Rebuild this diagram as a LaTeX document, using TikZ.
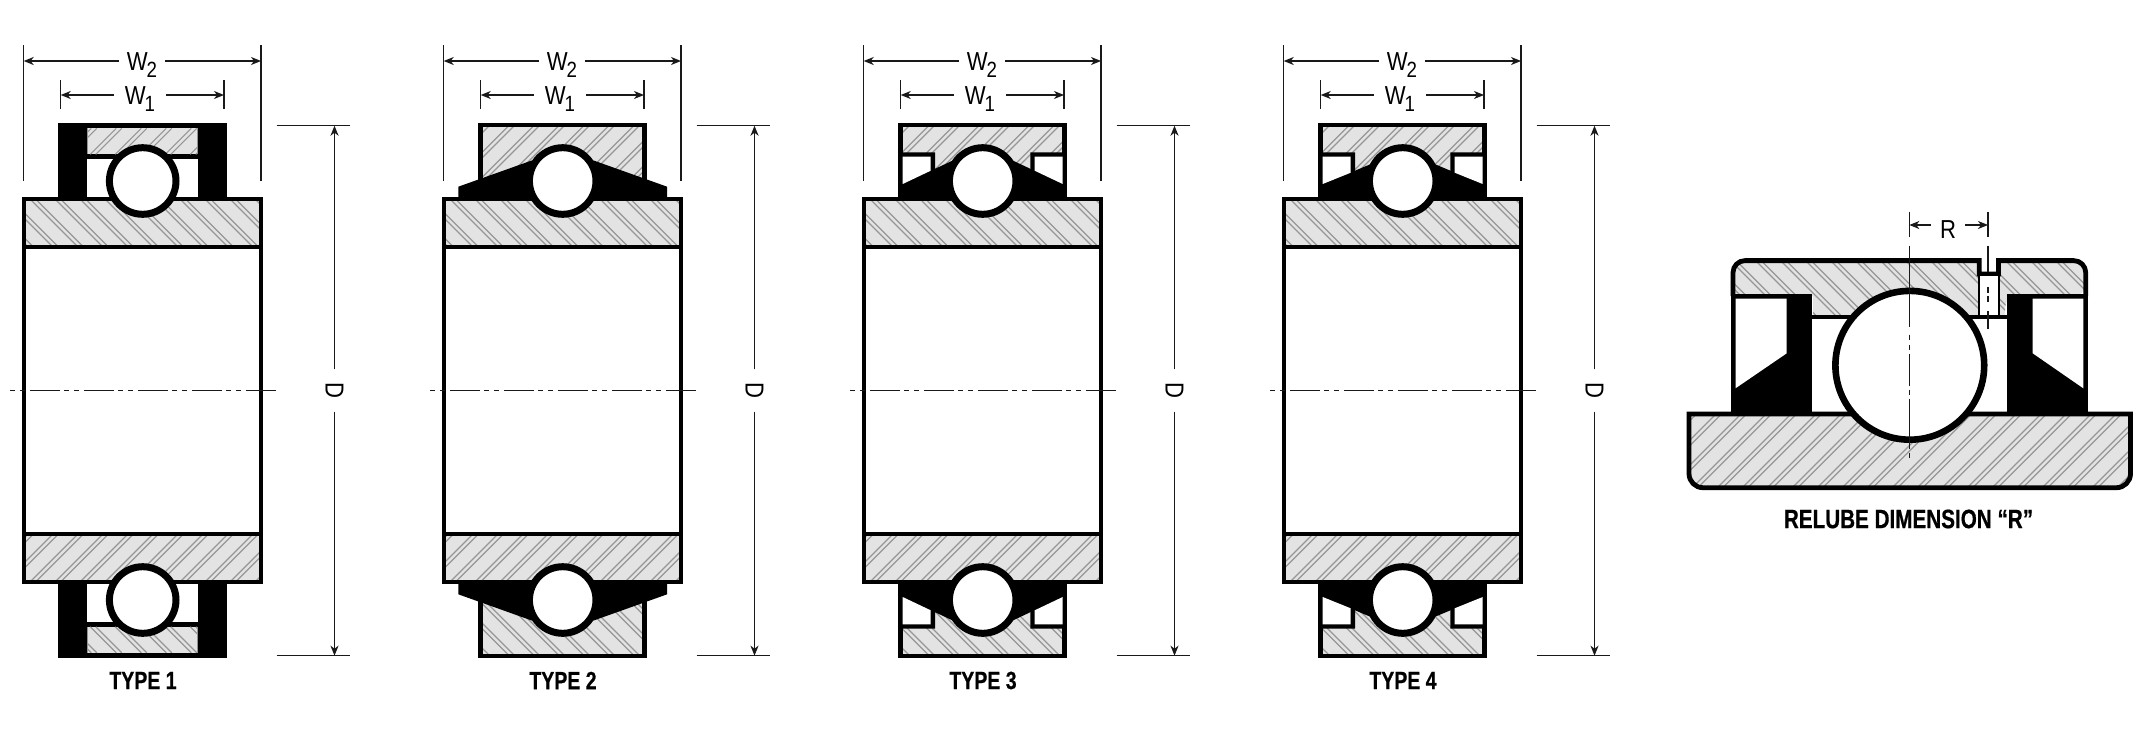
\documentclass[tikz,border=0pt]{standalone}
\usepackage{fontspec}
\newfontfamily\capfont[FakeStretch=0.78,BoldFeatures={FakeBold=0.6}]{Liberation Sans}
\newfontfamily\dimfont[FakeStretch=0.85]{Liberation Sans}
\usetikzlibrary{arrows.meta}
\usetikzlibrary{calc}
\definecolor{ringgray}{HTML}{E3E3E3}
\definecolor{hatchgray}{HTML}{969696}

\newcommand{\hatchup}[4]{%
  \fill[ringgray] (#1,#2) rectangle (#3,#4);
  \foreach \s in {4,29,...,620}{
    \draw[hatchline] ({#1-(#4-#2)+\s},#4) -- ({#1+\s},#2);
    \draw[hatchline] ({#1-(#4-#2)+\s+5.5},#4) -- ({#1+\s+5.5},#2);
  }}
\newcommand{\hatchdown}[4]{%
  \fill[ringgray] (#1,#2) rectangle (#3,#4);
  \foreach \s in {4,29,...,620}{
    \draw[hatchline] ({#1-(#4-#2)+\s},#2) -- ({#1+\s},#4);
    \draw[hatchline] ({#1-(#4-#2)+\s+5.5},#2) -- ({#1+\s+5.5},#4);
  }}
\newcommand{\outerring}{%
  \begin{scope}
    \clip (60.5,125) rectangle (224.8,199);
    \hatchup{60.5}{125}{224.8}{199}
  \end{scope}
  \draw[ringline] (60.5,199) -- (60.5,125) -- (224.8,125) -- (224.8,199);
}
% seals, x is measured from the ball centre, one side at a time
\newcommand{\sealone}{%
  \fill (58.3,123) rectangle (226.7,199);
  \begin{scope}
    \clip (87.3,128.3) rectangle (197.7,154.3);
    \hatchup{87.3}{128.3}{197.7}{154.3}
  \end{scope}
  \fill[white] (87.3,159.3) rectangle (197.7,199);
}
\newcommand{\sealtwo}{%
  \outerring
  \foreach \m in {1,-1}{
    \begin{scope}[shift={(142.7,0)},xscale=\m]
      \fill (-104.4,199) -- (-104.4,186.7) -- (-31,160.5) -- (0,170) -- (0,199) -- cycle;
    \end{scope}
  }}
\newcommand{\sealthree}{%
  \outerring
  \foreach \m in {1,-1}{
    \begin{scope}[shift={(142.7,0)},xscale=\m]
      \fill (-82.7,152.3) -- (-47.7,152.3) -- (-47.7,172) -- (-82.7,190) -- cycle;
      \fill (-82.7,199) -- (-82.7,185.3) -- (-31,161) -- (0,170) -- (0,199) -- cycle;
      \fill[white] (-80,156.7) -- (-52,156.7) -- (-52,170.7) -- (-80,184) -- cycle;
    \end{scope}
  }}
\newcommand{\sealfour}{%
  \outerring
  \foreach \m in {1,-1}{
    \begin{scope}[shift={(142.7,0)},xscale=\m]
      \fill (-82.7,152.3) -- (-47.7,152.3) -- (-47.7,172) -- (-82.7,190) -- cycle;
      \fill (-82.7,199) -- (-82.7,185.5) -- (-47.7,170.7) -- (-32.7,164.4) -- (0,170) -- (0,199) -- cycle;
      \fill[white] (-80,156.7) -- (-52,156.7) -- (-52,172.7) -- (-80,184) -- cycle;
    \end{scope}
  }}
\newcommand{\bearinghalf}[1]{%
  #1
  \begin{scope}
    \clip (24,199) rectangle (261,247);
    \hatchdown{24}{199}{261}{247}
  \end{scope}
  \draw[ringline] (24,199) rectangle (261,247);
  \draw[ballstyle] (142.7,181) circle (33.3);
}
\newcommand{\widthsub}[2]{#1\kern-1pt\raisebox{-7pt}{\fontsize{22}{22}\selectfont #2}}

\begin{document}
\begin{tikzpicture}
  [
    x=1pt, y=-1pt,
    every node/.style={font=\dimfont\fontsize{26}{26}\selectfont}
  ]
    \tikzset{
      >={Stealth[length=10pt,width=8pt,inset=3pt]},
      ringline/.style = {line width=4.8pt, draw=black},
      ballstyle/.style = {line width=7pt, draw=black, fill=white},
      hatchline/.style = {line width=1.2pt, draw=hatchgray},
      dimline/.style = {line width=1.4pt, draw=black!90},
      dimarrow/.style = {dimline, ->},
      dimlabel/.style = {inner xsep=8pt, inner ysep=0pt, text height=18pt, text depth=0pt},
      centerstyle/.style = {dimline, dash pattern=on 30pt off 4pt on 5pt off 5pt on 5pt off 5pt, dash phase=34pt},
      typelabel/.style = {font=\capfont\bfseries\fontsize{25}{25}\selectfont},
    }
    \useasboundingbox (0,0) rectangle (2138,750);

    \foreach \bx/\tn/\sealmac in {0/1/\sealone, 420/2/\sealtwo, 840/3/\sealthree, 1260/4/\sealfour}{
      \begin{scope}[shift={(\bx,0)}]
        \draw[ringline, fill=white] (24,199) rectangle (261,582);
        \bearinghalf{\sealmac}
        \begin{scope}[shift={(0,781)},yscale=-1]
          \bearinghalf{\sealmac}
        \end{scope}

        \coordinate (cla\tn) at (10,390.5);
        \coordinate (clb\tn) at (276,390.5);
        \draw[centerstyle] (cla\tn) -- (clb\tn);

        % W2
        \coordinate (wtwol\tn) at (23.7,61);
        \coordinate (wtwor\tn) at (261,61);
        \coordinate (wtwola\tn) at (23.7,45);
        \coordinate (wtwolb\tn) at (23.7,181);
        \coordinate (wtwora\tn) at (261,45);
        \coordinate (wtworb\tn) at (261,181);
        \node (wtwo\tn) [dimlabel] at (142,61) {\widthsub{W}{2}};
        \draw[dimarrow] (wtwo\tn) -- (wtwol\tn);
        \draw[dimarrow] (wtwo\tn) -- (wtwor\tn);
        \draw[dimline] (wtwola\tn) -- (wtwolb\tn);
        \draw[dimline] (wtwora\tn) -- (wtworb\tn);

        % W1
        \coordinate (wonel\tn) at (60.7,95);
        \coordinate (woner\tn) at (224,95);
        \coordinate (wonela\tn) at (60.7,80);
        \coordinate (wonelb\tn) at (60.7,109);
        \coordinate (wonera\tn) at (224,80);
        \coordinate (wonerb\tn) at (224,109);
        \node (wone\tn) [dimlabel, inner xsep=11pt] at (140,95) {\widthsub{W}{1}};
        \draw[dimarrow] (wone\tn) -- (wonel\tn);
        \draw[dimarrow] (wone\tn) -- (woner\tn);
        \draw[dimline] (wonela\tn) -- (wonelb\tn);
        \draw[dimline] (wonera\tn) -- (wonerb\tn);

        % D
        \coordinate (dt\tn) at (334.5,125.7);
        \coordinate (db\tn) at (334.5,655.7);
        \coordinate (dta\tn) at (276.5,125.7);
        \coordinate (dtb\tn) at (350,125.7);
        \coordinate (dba\tn) at (276.5,655.7);
        \coordinate (dbb\tn) at (350,655.7);
        \node (dlab\tn) [dimlabel, rotate=-90, inner xsep=13pt] at (334.5,390.5) {D};
        \draw[dimarrow] (dlab\tn) -- (dt\tn);
        \draw[dimarrow] (dlab\tn) -- (db\tn);
        \draw[dimline] (dta\tn) -- (dtb\tn);
        \draw[dimline] (dba\tn) -- (dbb\tn);

        \node (type\tn) [typelabel] at (143,680.5) {TYPE \tn};
      \end{scope}
    }

    % relube detail
    \begin{scope}
      \clip (1733,296) [rounded corners=12pt] -- (1733,260.6) [sharp corners] -- (1979.2,260.6) -- (1979.2,274) -- (1998.4,274) -- (1998.4,260.6) [rounded corners=12pt] -- (2085.7,260.6) -- (2085.7,296) -- (2005,296) [sharp corners] -- (2005,317) -- (1813,317) -- (1813,296) -- cycle;
      \hatchdown{1733}{258}{2086}{317}
    \end{scope}
    \draw[ringline] (1733,296) [rounded corners=12pt] -- (1733,260.6) [sharp corners] -- (1979.2,260.6) -- (1979.2,274) -- (1998.4,274) -- (1998.4,260.6) [rounded corners=12pt] -- (2085.7,260.6) -- (2085.7,296);
    \fill[white] (1979,276) rectangle (1999,316);
    \draw[line width=1.2pt] (1979,276) -- (1979,316) (1999,276) -- (1999,316);
    \fill (1812,315) rectangle (2007,319.3);
    \fill (1730.7,294) rectangle (1812,412);
    \fill (2006.7,294) rectangle (2088,412);
    \fill[white] (1735.5,298.7) -- (1786.7,298.7) -- (1786.7,353.3) -- (1735.5,388.3) -- cycle;
    \fill[white] (2083.3,298.7) -- (2032.7,298.7) -- (2032.7,353.3) -- (2083.3,388.3) -- cycle;

    \begin{scope}
      \clip (1689,414) [rounded corners=14pt] -- (1689,487.7) -- (2130.5,487.7) [sharp corners] -- (2130.5,414) -- cycle;
      \hatchup{1689}{412}{2131}{488}
    \end{scope}
    \draw[ringline] (1689,414) [rounded corners=14pt] -- (1689,487.7) -- (2130.5,487.7) [sharp corners] -- (2130.5,414) -- cycle;
    \draw[ballstyle, line width=6.6pt] (1909.8,365.3) circle (74.4);

    \coordinate (rca) at (1909.3,211.7);
    \coordinate (rcb) at (1909.3,458);
    \coordinate (rha) at (1988,211.7);
    \coordinate (rhb) at (1988,329);
    \coordinate (rl) at (1909.3,225);
    \coordinate (rr) at (1988,225);
    \draw[dimline, dash pattern=on 25pt off 9pt on 81pt off 8pt on 5pt off 5pt on 5pt off 4pt on 32pt off 4pt on 5pt off 4pt on 50pt off 4pt on 5pt off 4pt] (rca) -- (rcb);
    \draw[dimline, dash pattern=on 25pt off 9pt on 26pt off 15pt on 6pt off 3pt on 6pt off 9pt on 24pt] (rha) -- (rhb);
    \node (rlab) [inner xsep=9pt, inner ysep=0pt, text height=26pt, text depth=0pt] at (1948,225) {R};
    \draw[dimarrow] (rlab) -- (rl);
    \draw[dimarrow] (rlab) -- (rr);
    \node (relube) [typelabel, font=\capfont\bfseries\fontsize{26.5}{26.5}\selectfont] at (1908.5,519) {RELUBE DIMENSION “R”};
\end{tikzpicture}
\end{document}
